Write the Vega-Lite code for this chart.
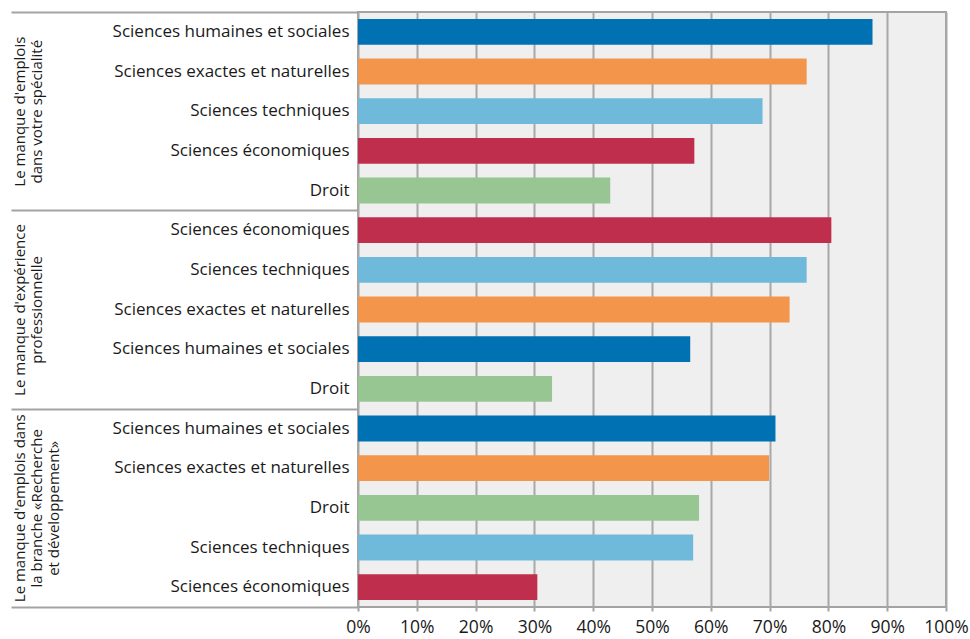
{
  "$schema": "https://vega.github.io/schema/vega-lite/v6.json",
  "width": 588,
  "height": 595,
  "autosize": {"type": "none"},
  "padding": {"left": 358, "top": 12, "right": 24, "bottom": 32},
  "background": "white",
  "datasets": {
    "groups": [
      {"group": "Le manque d'emplois|dans votre spécialité"},
      {"group": "Le manque d'expérience|professionnelle"},
      {"group": "Le manque d'emplois dans|la branche «Recherche|et développement»"}
    ],
    "bars": [
      {"key": "1|Sciences humaines et sociales", "category": "Sciences humaines et sociales", "value": 87.5},
      {"key": "1|Sciences exactes et naturelles", "category": "Sciences exactes et naturelles", "value": 76.3},
      {"key": "1|Sciences techniques", "category": "Sciences techniques", "value": 68.8},
      {"key": "1|Sciences économiques", "category": "Sciences économiques", "value": 57.2},
      {"key": "1|Droit", "category": "Droit", "value": 42.9},
      {"key": "2|Sciences économiques", "category": "Sciences économiques", "value": 80.5},
      {"key": "2|Sciences techniques", "category": "Sciences techniques", "value": 76.3},
      {"key": "2|Sciences exactes et naturelles", "category": "Sciences exactes et naturelles", "value": 73.4},
      {"key": "2|Sciences humaines et sociales", "category": "Sciences humaines et sociales", "value": 56.5},
      {"key": "2|Droit", "category": "Droit", "value": 33.0},
      {"key": "3|Sciences humaines et sociales", "category": "Sciences humaines et sociales", "value": 71.0},
      {"key": "3|Sciences exactes et naturelles", "category": "Sciences exactes et naturelles", "value": 69.9},
      {"key": "3|Droit", "category": "Droit", "value": 58.0},
      {"key": "3|Sciences techniques", "category": "Sciences techniques", "value": 57.0},
      {"key": "3|Sciences économiques", "category": "Sciences économiques", "value": 30.5}
    ]
  },
  "layer": [
    {
      "data": {"name": "groups"},
      "mark": {"type": "rule", "opacity": 0},
      "encoding": {
        "y": {
          "field": "group",
          "type": "nominal",
          "sort": null,
          "scale": {"paddingInner": 0, "paddingOuter": 0},
          "axis": {
            "orient": "left",
            "title": null,
            "domain": false,
            "grid": false,
            "ticks": true,
            "tickBand": "extent",
            "tickSize": 347,
            "tickColor": "#a3a3a3",
            "tickWidth": 2,
            "labelExpr": "split(datum.label, '|')",
            "labelAngle": -90,
            "labelAlign": "center",
            "labelBaseline": "top",
            "labelPadding": -1,
            "labelFontSize": 15,
            "labelLineHeight": 17,
            "labelLimit": 400,
            "labelFont": "Open Sans",
            "labelColor": "#1a1a1a"
          }
        }
      }
    },
    {
      "data": {"name": "bars"},
      "mark": {"type": "bar"},
      "encoding": {
        "y": {
          "field": "key",
          "type": "nominal",
          "sort": null,
          "scale": {"paddingInner": 0.35, "paddingOuter": 0.175},
          "axis": {
            "orient": "left",
            "title": null,
            "domain": false,
            "ticks": false,
            "grid": false,
            "labelExpr": "split(datum.label, '|')[1]",
            "labelPadding": 9,
            "labelFontSize": 17,
            "labelLimit": 400,
            "labelFont": "Open Sans",
            "labelColor": "#1a1a1a"
          }
        },
        "x": {
          "field": "value",
          "type": "quantitative",
          "scale": {"domain": [0, 100], "nice": false},
          "axis": {
            "title": null,
            "values": [0, 10, 20, 30, 40, 50, 60, 70, 80, 90, 100],
            "labelExpr": "datum.value + '%'",
            "domain": false,
            "grid": true,
            "gridColor": "#a8a8a8",
            "gridWidth": 2,
            "ticks": true,
            "tickSize": 4,
            "tickColor": "#a3a3a3",
            "tickWidth": 2,
            "labelFlush": false,
            "labelPadding": 7,
            "labelFontSize": 17.5,
            "labelFont": "Open Sans",
            "labelColor": "#1a1a1a"
          }
        },
        "color": {
          "field": "category",
          "type": "nominal",
          "scale": {
            "domain": ["Sciences humaines et sociales", "Sciences exactes et naturelles", "Sciences techniques", "Sciences économiques", "Droit"],
            "range": ["#0071b3", "#f3954a", "#6fb9db", "#c02e4e", "#98c693"]
          },
          "legend": null
        }
      }
    }
  ],
  "resolve": {"scale": {"y": "independent"}, "axis": {"y": "independent"}},
  "config": {
    "view": {"stroke": "#a3a3a3", "strokeWidth": 2, "fill": "#efefef"}
  }
}
